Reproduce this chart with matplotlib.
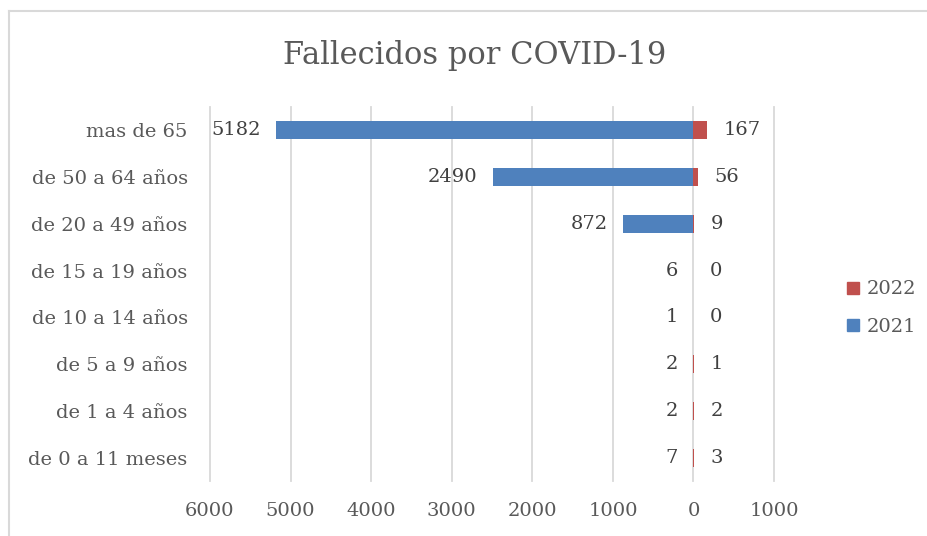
import numpy as np
import matplotlib.pyplot as plt
from matplotlib.lines import Line2D

# data (bottom row first)
categories = ["de 0 a 11 meses", "de 1 a 4 años", "de 5 a 9 años", "de 10 a 14 años",
              "de 15 a 19 años", "de 20 a 49 años", "de 50 a 64 años", "mas de 65"]
deaths_2021 = [7, 2, 2, 1, 6, 872, 2490, 5182]
deaths_2022 = [3, 2, 1, 0, 0, 9, 56, 167]
xticks = [-6000, -5000, -4000, -3000, -2000, -1000, 0, 1000]

blue = "#4F81BD"
red = "#C0504D"
grey = "#595959"
dark = "#404040"
grid = "#D9D9D9"

plt.rcParams['font.family'] = ['DejaVu Serif']
fs = 14

fig = plt.figure(figsize=(9.27, 5.36), dpi=100)
ax = fig.add_axes([0.2265, 0.1019, 0.6085, 0.6992])

y = np.arange(len(categories))
ax.barh(y, -np.array(deaths_2021), height=0.39, color=blue, label="2021", zorder=3)
ax.barh(y, deaths_2022, height=0.39, color=red, label="2022", zorder=3)

for yi, v in zip(y, deaths_2021):
    ax.annotate(str(v), (-v, yi), xytext=(-11, 0), textcoords="offset points",
                ha="right", va="center", fontsize=fs, color=dark)
for yi, v in zip(y, deaths_2022):
    ax.annotate(str(v), (v, yi), xytext=(12, 0), textcoords="offset points",
                ha="left", va="center", fontsize=fs, color=dark)

ax.set_xlim(-6000, 1000)
ax.set_ylim(-0.5, len(categories) - 0.5)
ax.set_xticks(xticks)
ax.set_xticklabels([str(abs(t)) for t in xticks])
ax.set_yticks(y)
ax.set_yticklabels(categories)
ax.tick_params(axis="x", length=0, pad=15, labelsize=fs, labelcolor=grey)
ax.tick_params(axis="y", length=0, pad=16, labelsize=fs, labelcolor=grey)
ax.grid(axis="x", color=grid, linewidth=1.3, zorder=0)
for gl in ax.get_xgridlines():
    gl.set_clip_on(False)
for s in ax.spines.values():
    s.set_visible(False)

fig.text(0.512, 0.897, "Fallecidos por COVID-19", ha="center", va="center",
         fontsize=22, color=grey)

handles = [Line2D([], [], marker="s", linestyle="", markersize=8, color=red),
           Line2D([], [], marker="s", linestyle="", markersize=8, color=blue)]
fig.legend(handles, ["2022", "2021"], loc="center left", bbox_to_anchor=(0.893, 0.425),
           frameon=False, fontsize=fs, labelcolor=grey, handlelength=0.8,
           handletextpad=0.3, labelspacing=1.0)

# chart border (top and left visible)
fig.add_artist(Line2D([0.0097, 0.0097], [0, 0.979], color=grid, linewidth=1.5))
fig.add_artist(Line2D([0.0097, 1], [0.979, 0.979], color=grid, linewidth=1.5))

fig.savefig("out.png", dpi=100)
